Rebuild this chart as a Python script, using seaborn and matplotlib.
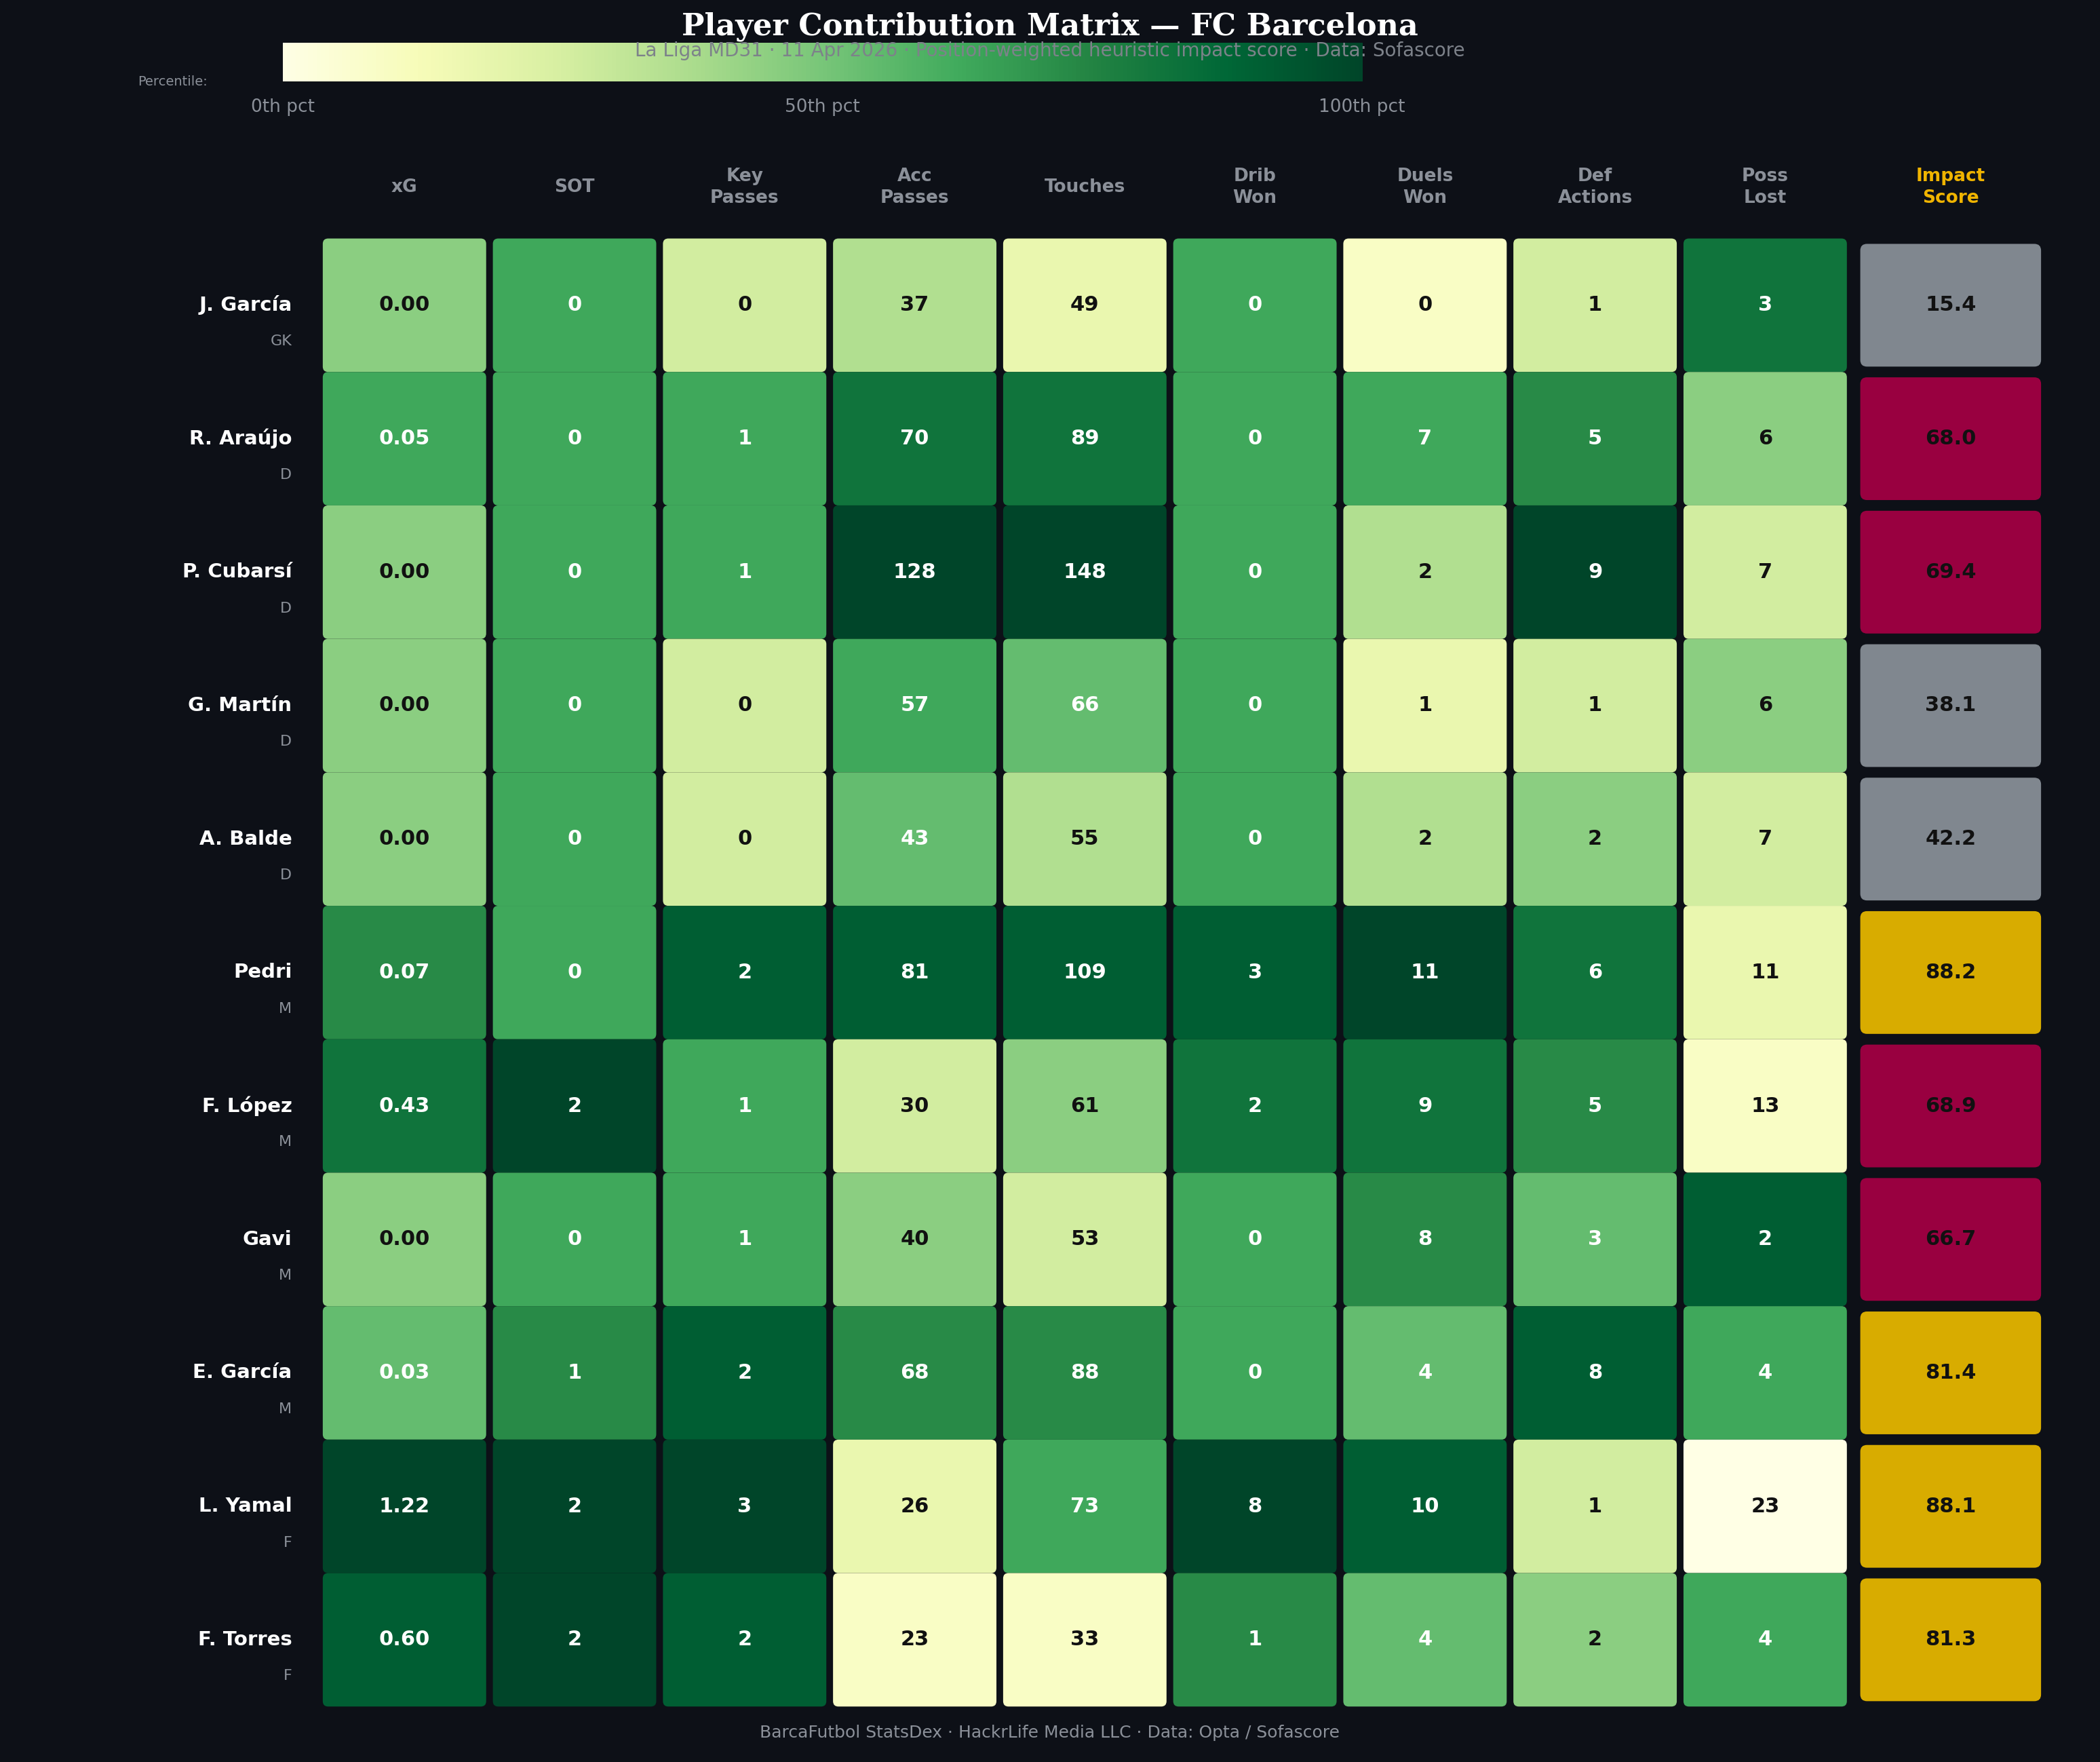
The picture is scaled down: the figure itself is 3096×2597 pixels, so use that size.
import numpy as np
import pandas as pd
import matplotlib.pyplot as plt
import seaborn as sns
from matplotlib.patches import FancyBboxPatch

sns.set_theme(style="white")
plt.rcParams['font.family'] = ['DejaVu Sans']

BG = "#0d1017"

# Data
players = ["J. García", "R. Araújo", "P. Cubarsí", "G. Martín", "A. Balde", "Pedri",
           "F. López", "Gavi", "E. García", "L. Yamal", "F. Torres"]
positions = ["GK", "D", "D", "D", "D", "M", "M", "M", "M", "F", "F"]
metrics = ["xG", "SOT", "Key\nPasses", "Acc\nPasses", "Touches", "Drib\nWon",
           "Duels\nWon", "Def\nActions", "Poss\nLost"]
xg = [0.00, 0.05, 0.00, 0.00, 0.00, 0.07, 0.43, 0.00, 0.03, 1.22, 0.60]
sot = [0, 0, 0, 0, 0, 0, 2, 0, 1, 2, 2]
key_passes = [0, 1, 1, 0, 0, 2, 1, 1, 2, 3, 2]
acc_passes = [37, 70, 128, 57, 43, 81, 30, 40, 68, 26, 23]
touches = [49, 89, 148, 66, 55, 109, 61, 53, 88, 73, 33]
drib_won = [0, 0, 0, 0, 0, 3, 2, 0, 0, 8, 1]
duels_won = [0, 7, 2, 1, 2, 11, 9, 8, 4, 10, 4]
def_actions = [1, 5, 9, 1, 2, 6, 5, 3, 8, 1, 2]
poss_lost = [3, 6, 7, 6, 7, 11, 13, 2, 4, 23, 4]
impact = [15.4, 68.0, 69.4, 38.1, 42.2, 88.2, 68.9, 66.7, 81.4, 88.1, 81.3]

df = pd.DataFrame(dict(zip(metrics, [xg, sot, key_passes, acc_passes, touches,
                                     drib_won, duels_won, def_actions, poss_lost])),
                  index=players)
n = len(players)
pct = df.rank(method="max") / n
# fewer possession losses is better
pct["Poss\nLost"] = 1 - df["Poss\nLost"].rank(method="max") / n

cmap = sns.color_palette("YlGn", as_cmap=True)


def impact_color(v):
    if v >= 80:
        return "#d8ac00"
    if v >= 50:
        return "#990040"
    return "#80878f"


# canvas in display units (half pixels)
W, H = 1568, 1315
fig = plt.figure(figsize=(15.48, 12.985), dpi=200, facecolor=BG)
ax = fig.add_axes([0, 0, 1, 1])
ax.set_xlim(0, W)
ax.set_ylim(H, 0)
ax.axis("off")

x0, cw, gap = 240, 127, 5
y0, rh = 178, 99.6
ix0, iw = 1389, 135

for j, m in enumerate(metrics):
    cx = x0 + j * cw + (cw - gap) / 2 + 1
    ax.text(cx, 140, m, ha="center", va="center", color="#8b9099",
            fontsize=9.5, fontweight="bold", linespacing=1.3)
    for i, p in enumerate(players):
        v = pct.iloc[i, j]
        ax.add_patch(FancyBboxPatch((x0 + j * cw + 1, y0 + i * rh), cw - gap, rh,
                                    boxstyle="round,pad=0,rounding_size=4",
                                    fc=cmap(v), ec="none"))
        val = df.iloc[i, j]
        txt = f"{val:.2f}" if j == 0 else f"{int(val)}"
        tc = "#111111" if v < 0.5 else "white"
        ax.text(cx, y0 + i * rh + rh / 2, txt, ha="center", va="center",
                color=tc, fontsize=11, fontweight="bold", zorder=5)

ax.text(ix0 + iw / 2, 140, "Impact\nScore", ha="center", va="center", color="#f0b400",
        fontsize=9.5, fontweight="bold", linespacing=1.3)
for i, p in enumerate(players):
    cy = y0 + i * rh + rh / 2
    ax.add_patch(FancyBboxPatch((ix0, y0 + i * rh + 4), iw, rh - 8,
                                boxstyle="round,pad=0,rounding_size=5",
                                fc=impact_color(impact[i]), ec="none"))
    ax.text(ix0 + iw / 2, cy, f"{impact[i]:.1f}", ha="center", va="center",
            color="#111111", fontsize=11, fontweight="bold")
    ax.text(218, cy, p, ha="right", va="center", color="white", fontsize=10.5,
            fontweight="bold")
    ax.text(218, cy + 27, positions[i], ha="right", va="center", color="#8b9099",
            fontsize=8)

# percentile colorbar
cax = fig.add_axes([211 / W, 1 - 61 / H, 806 / W, 29 / H])
cax.imshow(np.linspace(0, 1, 256)[None, :], aspect="auto", cmap=cmap, extent=[0, 100, 0, 1])
cax.set_yticks([])
cax.set_xticks([0, 50, 100])
cax.set_xticklabels(["0th pct", "50th pct", "100th pct"], color="#8b9099", fontsize=9.5)
cax.tick_params(axis="x", length=4, color="#333", pad=5)
for s in cax.spines.values():
    s.set_visible(False)
fig.text(155 / W, 1 - 61 / H, "Percentile:", ha="right", va="center", color="#8b9099",
         fontsize=7)

# titles on top of everything
fig.text(0.5, 1 - 20 / H, "Player Contribution Matrix — FC Barcelona", ha="center",
         va="center", color="white", fontsize=16, fontweight="bold", family="DejaVu Serif")
fig.text(0.5, 1 - 38 / H,
         "La Liga MD31 · 11 Apr 2026 · Position-weighted heuristic impact score · Data: Sofascore",
         ha="center", va="center", color="#7d828a", fontsize=10, zorder=10)
fig.text(0.5, 1 - 1293 / H, "BarcaFutbol StatsDex · HackrLife Media LLC · Data: Opta / Sofascore",
         ha="center", va="center", color="#8b9099", fontsize=9)

fig.savefig("out.png", dpi=200, facecolor=BG)
